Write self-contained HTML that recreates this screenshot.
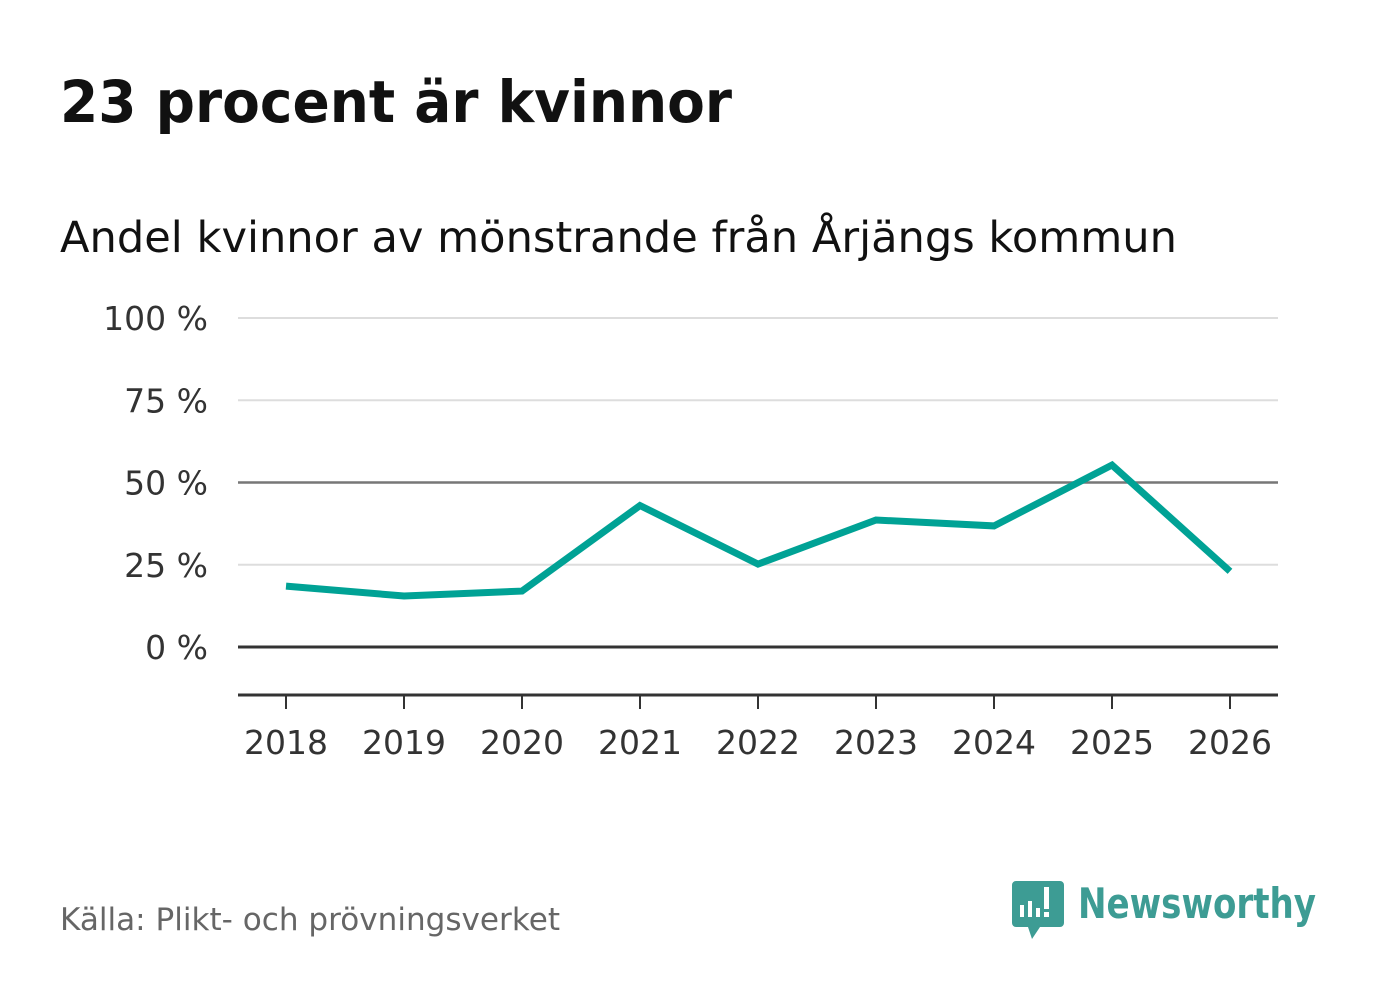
<!DOCTYPE html>
<html><head><meta charset="utf-8"><style>
body{margin:0;width:1382px;height:999px;background:#fff;font-family:"DejaVu Sans","Liberation Sans",sans-serif;overflow:hidden}
</style></head><body>
<svg width="1382" height="999">
<text x="60" y="122" font-size="58" font-weight="bold" fill="#111" textLength="672" lengthAdjust="spacingAndGlyphs">23 procent är kvinnor</text>
<text x="60" y="252" font-size="43" fill="#111" textLength="1117" lengthAdjust="spacingAndGlyphs">Andel kvinnor av mönstrande från Årjängs kommun</text>
<g id="grid"></g>
<g id="xaxis"></g>
<polyline id="line" fill="none" stroke="#00a295" stroke-width="7" stroke-linejoin="miter"/>
<text x="60" y="930" font-size="31" fill="#666" textLength="500" lengthAdjust="spacingAndGlyphs">Källa: Plikt- och prövningsverket</text>
<g>
<path d="M1016 881 h44 a4 4 0 0 1 4 4 v38 a4 4 0 0 1 -4 4 h-20 l-8 12 l-4 -12 h-12 a4 4 0 0 1 -4 -4 v-38 a4 4 0 0 1 4 -4z" fill="#3d9c94"/>
<rect x="1020" y="905" width="4" height="12" fill="#fff"/><rect x="1028" y="901" width="4" height="16" fill="#fff"/><rect x="1036" y="908" width="4" height="9" fill="#fff"/><rect x="1044" y="887" width="5" height="22" fill="#fff"/><rect x="1044" y="912" width="5" height="5" fill="#fff"/>
<text x="1078" y="918" font-size="42" font-weight="bold" fill="#3d9c94" textLength="238" lengthAdjust="spacingAndGlyphs">Newsworthy</text>
</g>
</svg>
<script>
const years=[2018,2019,2020,2021,2022,2023,2024,2025,2026];
const values=[18.5,15.5,17,43,25.2,38.6,36.8,55.3,23];
const yTicks=[0,25,50,75,100];
const ns="http://www.w3.org/2000/svg";
const x=i=>286+i*118;
const y=v=>647-v*3.29;
const g=document.getElementById('grid');
yTicks.forEach(t=>{
 const l=document.createElementNS(ns,'line');
 
 
 l.setAttribute('x1',238);l.setAttribute('x2',1278);l.setAttribute('y1',y(t));l.setAttribute('y2',y(t));
 l.setAttribute('stroke',t===0?'#333':(t===50?'#777':'#ddd'));l.setAttribute('stroke-width',t===0?3:(t===50?2.5:2));
 g.appendChild(l);
 const tx=document.createElementNS(ns,'text');
 
 
 tx.setAttribute('x',208);tx.setAttribute('y',y(t)+12);tx.setAttribute('text-anchor','end');
 tx.setAttribute('font-size','33');tx.setAttribute('fill','#333');tx.textContent=t+' %';
 g.appendChild(tx);
});
const xa=document.getElementById('xaxis');
const base=document.createElementNS(ns,'line');


base.setAttribute('x1',238);base.setAttribute('x2',1278);base.setAttribute('y1',695);base.setAttribute('y2',695);
base.setAttribute('stroke','#333');base.setAttribute('stroke-width',3);xa.appendChild(base);
years.forEach((yr,i)=>{
 const t=document.createElementNS(ns,'line');
 
 
 t.setAttribute('x1',x(i));t.setAttribute('x2',x(i));t.setAttribute('y1',695);t.setAttribute('y2',709);
 t.setAttribute('stroke','#333');t.setAttribute('stroke-width',2);xa.appendChild(t);
 const tx=document.createElementNS(ns,'text');
 
 
 tx.setAttribute('x',x(i));tx.setAttribute('y',754);tx.setAttribute('text-anchor','middle');
 tx.setAttribute('font-size','33');tx.setAttribute('fill','#333');tx.textContent=yr;
 xa.appendChild(tx);
});
document.getElementById('line').setAttribute('points',values.map((v,i)=>x(i)+','+y(v)).join(' '));
</script>
</body></html>
